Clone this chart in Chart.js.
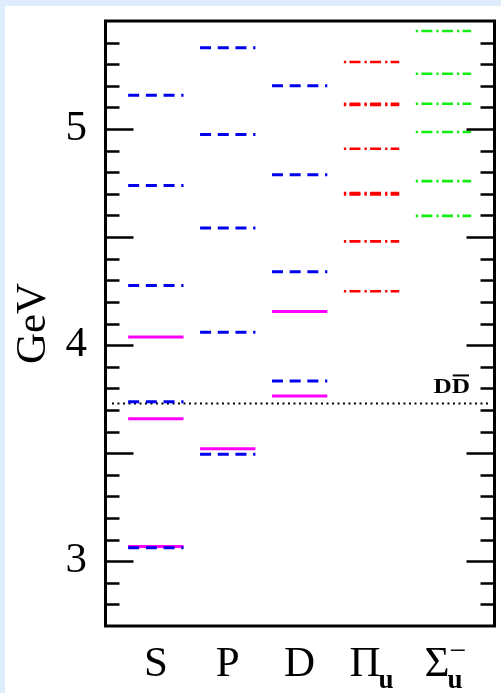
<!DOCTYPE html>
<html>
<head>
<meta charset="utf-8">
<script src="https://cdn.jsdelivr.net/npm/chart.js@4.4.1/dist/chart.umd.min.js"></script>
<style>
  html, body { margin: 0; padding: 0; background: #dfecfc; }
  #panel { position: absolute; left: 5px; top: 6px; width: 496px; height: 687px; background: #fff; }
  canvas { display: block; }
</style>
</head>
<body>
<div id="panel"><canvas id="levels" width="496" height="687"></canvas></div>
<script>
// columns along the bottom: main symbol, subscript, superscript
const categories = ['S', 'P', 'D', 'Π', 'Σ'];
const subLabels = ['', '', '', 'u', 'u'];
const supLabels = ['', '', '', '', '−'];

// measured states (solid magenta), GeV
const expS = [3.068, 3.659, 4.037];
const expP = [3.520];
const expD = [3.764, 4.156];

// model levels (blue dashed), GeV
const modelS = [3.062, 3.738, 4.276, 4.739, 5.156];
const modelP = [3.495, 4.060, 4.542, 4.975, 5.376];
const modelD = [3.834, 4.339, 4.788, 5.200];

// hybrid levels (dash-dot), GeV
const hybridPi = [4.249, 4.480, 4.697, 4.704, 4.909, 5.111, 5.117, 5.310];
const hybridSigma = [4.598, 4.759, 4.986, 5.117, 5.256, 5.454];

// open-charm threshold
const ddThreshold = 3.73;

const xMin = 0.3, xMax = 5.71;
const halfWidth = 0.385;

const BLUE = '#0000ee', MAGENTA = '#ff00ff', RED = '#ff0000', GREEN = '#11ee11';
const serif = '"Liberation Serif", "Times New Roman", serif';

const datasets = [];

function addLevels(values, column, style) {
    values.forEach(v => {
        datasets.push(Object.assign({
            data: [{ x: column - halfWidth, y: v }, { x: column + halfWidth, y: v }],
            pointRadius: 0,
            fill: false,
            tension: 0
        }, style));
    });
}

const expStyle = { borderColor: MAGENTA, borderWidth: 3, order: 3 };
const modelStyle = { borderColor: BLUE, borderWidth: 3, borderDash: [11, 6.7], order: 2 };
const piStyle = { borderColor: RED, borderWidth: 2.6, borderDash: [2.3, 3.3, 11, 4], order: 1 };
const sigmaStyle = { borderColor: GREEN, borderWidth: 2.6, borderDash: [2.3, 3.3, 11, 4], order: 1 };

addLevels(expS, 1, expStyle);
addLevels(expP, 2, expStyle);
addLevels(expD, 3, expStyle);
addLevels(modelS, 1, modelStyle);
addLevels(modelP, 2, modelStyle);
addLevels(modelD, 3, modelStyle);
addLevels(hybridPi, 4, piStyle);
addLevels(hybridSigma, 5, sigmaStyle);

// dotted DD-bar threshold across the frame
datasets.push({
    data: [{ x: xMin + 0.09, y: ddThreshold }, { x: xMax - 0.09, y: ddThreshold }],
    borderColor: '#000',
    borderWidth: 2,
    borderDash: [2, 3.5],
    pointRadius: 0,
    fill: false,
    order: 4
});

// frame, inward ticks on both sides, column labels and the threshold tag
const decorations = {
    id: 'decorations',
    afterDatasetsDraw(chart) {
        const { ctx, chartArea, scales } = chart;
        const { left, right, top, bottom } = chartArea;
        const xs = scales.x, ys = scales.y;
        ctx.save();
        ctx.strokeStyle = '#000';
        ctx.lineWidth = 2.6;
        ys.ticks.forEach(t => {
            const v = t.value;
            if (v <= ys.min + 1e-6 || v >= ys.max - 1e-6) return;
            const py = Math.round(ys.getPixelForValue(v)) + 0.5;
            const major = Math.abs(v * 2 - Math.round(v * 2)) < 1e-6;
            const len = major ? 28 : 14;
            ctx.beginPath();
            ctx.moveTo(left, py);
            ctx.lineTo(left + len, py);
            ctx.moveTo(right - len, py);
            ctx.lineTo(right, py);
            ctx.stroke();
        });
        ctx.lineWidth = 3;
        ctx.strokeRect(left, top, right - left, bottom - top);

        // threshold tag "DD̄", a little stretched sideways
        const ty = ys.getPixelForValue(ddThreshold) - 10;
        const stretch = 1.15;
        ctx.fillStyle = '#000';
        ctx.font = 'bold 22px ' + serif;
        ctx.textBaseline = 'alphabetic';
        ctx.textAlign = 'left';
        const dw = ctx.measureText('D').width * stretch;
        const tx = right - 24.5 - 2 * dw;
        ctx.save();
        ctx.translate(tx, ty);
        ctx.scale(stretch, 1);
        ctx.fillText('DD', 0, 0);
        ctx.restore();
        ctx.lineWidth = 2;
        ctx.beginPath();
        ctx.moveTo(tx + dw + 1, ty - 18);
        ctx.lineTo(tx + 2 * dw - 1, ty - 18);
        ctx.stroke();

        // column labels with sub/superscripts
        const base = bottom + 50;
        categories.forEach((name, i) => {
            ctx.font = '43px ' + serif;
            const w = ctx.measureText(name).width;
            ctx.font = 'bold 27px ' + serif;
            const ws = subLabels[i] ? ctx.measureText(subLabels[i]).width : 0;
            const total = w + (ws ? ws - 2 : 0);
            const x0 = xs.getPixelForValue(i + 1) - total / 2;
            ctx.font = '43px ' + serif;
            ctx.fillText(name, x0, base);
            if (subLabels[i]) {
                ctx.font = 'bold 27px ' + serif;
                ctx.fillText(subLabels[i], x0 + w - 2, base + 12);
            }
            if (supLabels[i]) {
                ctx.font = '30px ' + serif;
                ctx.fillText(supLabels[i], x0 + w, base - 16);
            }
        });
        ctx.restore();
    }
};

new Chart(document.getElementById('levels'), {
    type: 'line',
    data: { datasets },
    options: {
        responsive: false,
        animation: false,
        layout: { padding: { top: 15, right: 6.5, left: 0, bottom: 0 } },
        plugins: {
            legend: { display: false },
            tooltip: { enabled: false }
        },
        scales: {
            x: {
                type: 'linear',
                min: xMin,
                max: xMax,
                ticks: { display: false },
                grid: { display: false, drawTicks: false },
                border: { display: false },
                afterFit(scale) {
                    scale.height = 67;
                    scale.paddingLeft = 0;
                    scale.paddingRight = 0;
                }
            },
            y: {
                type: 'linear',
                min: 2.7,
                max: 5.5,
                ticks: {
                    stepSize: 0.1,
                    autoSkip: false,
                    padding: 18.5,
                    color: '#000',
                    font: { family: serif, size: 43 },
                    callback: v => Math.abs(v - Math.round(v)) < 1e-6 ? String(Math.round(v)) : ''
                },
                grid: { display: false, drawTicks: false },
                border: { display: false },
                title: {
                    display: true,
                    text: 'GeV',
                    color: '#000',
                    font: { family: serif, size: 43 },
                    padding: { top: 3, bottom: 0 }
                },
                afterFit(scale) {
                    scale.width = 100.5;
                    scale.paddingTop = 0;
                    scale.paddingBottom = 0;
                }
            }
        }
    },
    plugins: [decorations]
});
</script>
</body>
</html>
